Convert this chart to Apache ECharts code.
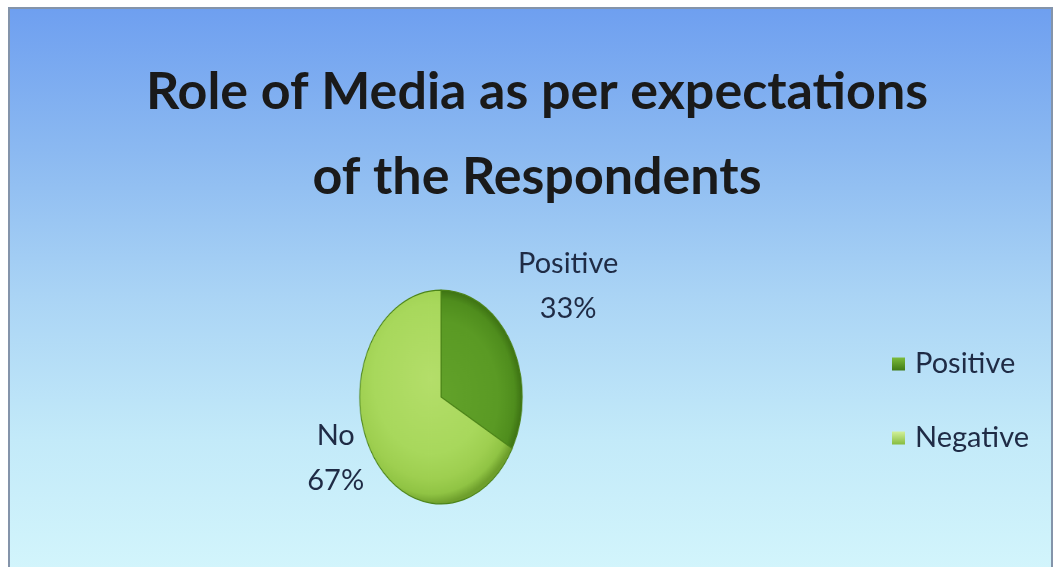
<!DOCTYPE html>
<html>
<head>
<meta charset="utf-8">
<script src="https://cdn.jsdelivr.net/npm/echarts@6/dist/echarts.min.js"></script>
<style>
  html, body { margin: 0; padding: 0; background: #ffffff; }
  #main { position: absolute; left: 0; top: 0; width: 1058px; height: 567px; }
  /* the pie sits in its own layer, squashed horizontally into an oval */
  #pie { position: absolute; left: 333px; top: 289px; width: 216px; height: 216px;
         transform: scaleX(0.76); transform-origin: 50% 50%; pointer-events: none; }
</style>
</head>
<body>
<div id="main"></div>
<div id="pie"></div>
<script>
// ---- data ----
const categories = ['Positive', 'Negative'];
const values = [33, 67];
const sliceLabels = ['Positive', 'No'];
const titleLines = ['Role of Media as per expectations', 'of the Respondents'];

// ---- look ----
const textColor = '#1f2b45';
const fontFamily = 'Lato, "Open Sans", sans-serif';
const pieCenter = [441, 397];
const pieRadius = 108;
const squash = 0.76;
// how far out each label sits along its slice's mid direction (x, y multipliers)
const labelReach = [[1.80, 2.02], [1.49, 1.12]];

const sliceFill = [
  { type: 'radial', x: 108, y: 108, r: 108, global: true,
    colorStops: [
      { offset: 0, color: '#62a22a' }, { offset: 0.7, color: '#5a9a24' },
      { offset: 0.9, color: '#4f8d1d' }, { offset: 1, color: '#3b6f12' } ] },
  { type: 'radial', x: 95, y: 90, r: 125, global: true,
    colorStops: [
      { offset: 0, color: '#b4de6a' }, { offset: 0.6, color: '#a8d85c' },
      { offset: 0.8, color: '#9ecf50' }, { offset: 0.92, color: '#90c444' }, { offset: 1, color: '#6e9f2c' } ] }
];
const legendFill = [
  { type: 'linear', x: 0, y: 0, x2: 0, y2: 1,
    colorStops: [{ offset: 0, color: '#7cbc3c' }, { offset: 1, color: '#3f7a16' }] },
  { type: 'linear', x: 0, y: 0, x2: 0, y2: 1,
    colorStops: [{ offset: 0, color: '#d2f09a' }, { offset: 1, color: '#86bc3e' }] }
];

const total = values.reduce((a, b) => a + b, 0);
function midAngle(i) {
  let before = 0;
  for (let k = 0; k < i; k++) before += values[k];
  return ((before + values[i] / 2) / total) * Math.PI * 2; // clockwise from 12 o'clock
}

// ---- main layer: background, title, legend, slice labels ----
const main = echarts.init(document.getElementById('main'), null, { renderer: 'canvas' });
main.setOption({
  animation: false,
  graphic: [{
    type: 'rect', z: -10, silent: true,
    shape: { x: 9, y: 8, width: 1043, height: 575 },
    style: {
      fill: { type: 'linear', x: 0, y: 0, x2: 0, y2: 1,
        colorStops: [
          { offset: 0, color: '#6e9ff0' }, { offset: 0.25, color: '#8bb9f1' },
          { offset: 0.5, color: '#aad4f5' }, { offset: 0.75, color: '#c3eaf9' },
          { offset: 1, color: '#d4f6fc' } ] },
      stroke: '#8494aa', lineWidth: 2
    }
  }],
  title: {
    text: titleLines.join('\n'),
    left: 532, top: 45, textAlign: 'center',
    textStyle: { fontFamily, fontWeight: 'bold', fontSize: 52, lineHeight: 85, color: '#1a1a1a' }
  },
  legend: {
    orient: 'vertical', left: 887, top: 344,
    itemWidth: 13, itemHeight: 13, itemGap: 44,
    icon: 'rect',
    data: categories.map((name, i) => ({ name, itemStyle: { color: legendFill[i] } })),
    textStyle: { fontFamily, fontSize: 29, lineHeight: 30, color: textColor, padding: [0, 0, 0, 5] }
  },
  series: [{
    type: 'pie', silent: true,
    center: pieCenter, radius: pieRadius,
    startAngle: 90, clockwise: true,
    itemStyle: { color: 'rgba(0,0,0,0)' },
    labelLine: { show: false },
    label: {
      show: true, position: 'outside',
      fontFamily, fontSize: 29, lineHeight: 45, color: textColor,
      formatter: p => sliceLabels[p.dataIndex] + '\n' + Math.round(p.percent) + '%'
    },
    labelLayout: p => {
      const a = midAngle(p.dataIndex);
      const r = labelReach[p.dataIndex];
      return {
        x: pieCenter[0] + Math.sin(a) * pieRadius * squash * r[0],
        y: pieCenter[1] - Math.cos(a) * pieRadius * r[1],
        align: 'center', verticalAlign: 'middle'
      };
    },
    data: categories.map((name, i) => ({ name, value: values[i] }))
  }]
});

// ---- pie layer ----
const pie = echarts.init(document.getElementById('pie'), null, { renderer: 'canvas' });
pie.setOption({
  animation: false,
  series: [{
    type: 'pie', silent: true,
    center: ['50%', '50%'], radius: '99%',
    startAngle: 90, clockwise: true,
    label: { show: false }, labelLine: { show: false },
    itemStyle: { borderColor: '#4c8419', borderWidth: 1.2 },
    data: categories.map((name, i) => ({ name, value: values[i], itemStyle: { color: sliceFill[i] } }))
  }]
});
</script>
</body>
</html>
